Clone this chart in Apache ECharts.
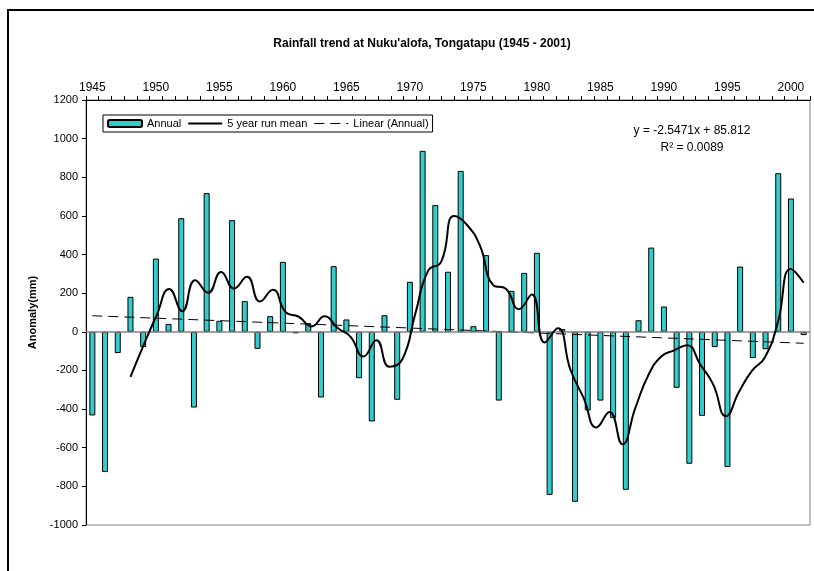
<!DOCTYPE html>
<html>
<head>
<meta charset="utf-8">
<title>Rainfall trend at Nuku'alofa</title>
<script src="https://cdn.jsdelivr.net/npm/echarts@6/dist/echarts.min.js"></script>
<style>
  html, body { margin: 0; padding: 0; background: #fff; }
  #chart { width: 814px; height: 571px; }
</style>
</head>
<body>
<div id="chart"></div>
<script>
const years = ['1945','1946','1947','1948','1949','1950','1951','1952','1953','1954',
  '1955','1956','1957','1958','1959','1960','1961','1962','1963','1964',
  '1965','1966','1967','1968','1969','1970','1971','1972','1973','1974',
  '1975','1976','1977','1978','1979','1980','1981','1982','1983','1984',
  '1985','1986','1987','1988','1989','1990','1991','1992','1993','1994',
  '1995','1996','1997','1998','1999','2000','2001'];

// annual anomaly (mm)
const annual = [-433, -726, -110, 181, -79, 379, 41, 588, -392, 718,
  57, 578, 159, -88, 81, 362, -8, 45, -340, 340,
  64, -240, -464, 86, -352, 259, 937, 656, 311, 833,
  29, 397, -356, 212, 305, 409, -844, 14, -880, -407,
  -356, -447, -818, 60, 436, 131, -290, -683, -435, -79,
  -700, 338, -136, -90, 821, 690, -17];

// 5 year run mean, 53 points drawn from the 1948 slot to the 2001 slot
const runMean = [-233, -71, 82, 222, 107, 267, 202, 310, 224, 285,
  157, 218, 101, 78, 28, 80, 20, -26, -128, -43,
  -181, -142, 93, 317, 362, 599, 553, 445, 243, 223,
  117, 193, -55, 19, -199, -342, -495, -415, -582, -394,
  -225, -128, -96, -69, -168, -271, -437, -312, -202, -133,
  47, 325, 254];

// linear trend, value at 1945 and at 2001
const trendEnds = [83.3, -59.4];

const yTicks = { min: -1000, max: 1200, step: 200 };

// the run mean sits on a hidden value axis stretched between the 1948 and 2001 slots
const n = years.length;
const f0 = (3 + 0.5) / n, f1 = (n - 1 + 0.5) / n;
const span = (runMean.length - 1) / (f1 - f0);
const runMin = -f0 * span;
const runMax = runMin + span;

const chart = echarts.init(document.getElementById('chart'));
const font = 'Liberation Sans, Arial, sans-serif';

chart.setOption({
  animation: false,
  backgroundColor: '#fff',
  textStyle: { fontFamily: font, color: '#000' },
  title: {
    text: "Rainfall trend at Nuku'alofa, Tongatapu (1945 - 2001)",
    left: 417,
    top: 33,
    textAlign: 'center',
    textStyle: { fontSize: 12, fontWeight: 'bold', color: '#000', fontFamily: font }
  },
  legend: {
    left: 103,
    top: 115,
    data: [
      { name: 'Annual' },
      { name: '5 year run mean', icon: 'path://M0,0h34v2h-34z' },
      { name: 'Linear (Annual)', icon: 'path://M0,0h10v1h-10z M16,0h10v1h-10z M32,0h2v1h-2z' }
    ],
    itemWidth: 34,
    itemHeight: 7,
    itemGap: 7,
    padding: [3, 4],
    borderColor: '#000',
    borderWidth: 1,
    borderRadius: 0,
    backgroundColor: '#fff',
    textStyle: { fontSize: 11, color: '#000', fontFamily: font }
  },
  grid: {
    left: 86, right: 4, top: 100, bottom: 46,
    show: true, borderColor: '#808080', borderWidth: 1,
    backgroundColor: 'transparent'
  },
  xAxis: [
    {
      type: 'category',
      position: 'top',
      data: years,
      boundaryGap: true,
      axisLine: { show: true, onZero: false, lineStyle: { color: '#000', width: 1 } },
      axisTick: { show: true, interval: 0, length: 4, lineStyle: { color: '#000', width: 1 } },
      axisLabel: { interval: 4, fontSize: 12, color: '#000', margin: 6 },
      splitLine: { show: false }
    },
    {
      type: 'value',
      show: false,
      min: runMin,
      max: runMax,
      axisLine: { onZero: false },
      splitLine: { show: false }
    }
  ],
  yAxis: {
    type: 'value',
    min: yTicks.min,
    max: yTicks.max,
    interval: yTicks.step,
    name: 'Anomaly(mm)',
    nameLocation: 'middle',
    nameGap: 46,
    nameTextStyle: { fontWeight: 'bold', fontSize: 11, color: '#000' },
    axisLine: { show: true, onZero: false, lineStyle: { color: '#000' } },
    axisTick: { show: true, length: 4, lineStyle: { color: '#000' } },
    axisLabel: { fontSize: 11, color: '#000', margin: 8, formatter: v => String(v) },
    splitLine: { show: false }
  },
  series: [
    {
      name: 'Annual',
      type: 'bar',
      data: annual,
      barWidth: 6,
      itemStyle: { color: '#33CCCC', borderColor: '#000', borderWidth: 1 },
      markLine: {
        silent: true,
        symbol: 'none',
        label: { show: false },
        lineStyle: { color: '#808080', width: 1.5, type: 'solid' },
        data: [{ yAxis: 0 }]
      }
    },
    {
      name: '5 year run mean',
      type: 'line',
      xAxisIndex: 1,
      data: runMean.map((v, i) => [i, v]),
      smooth: 0.5,
      symbol: 'none',
      lineStyle: { color: '#000', width: 2 },
      itemStyle: { color: '#000' },
      z: 5
    },
    {
      name: 'Linear (Annual)',
      type: 'line',
      data: [[0, trendEnds[0]], [n - 1, trendEnds[1]]],
      symbol: 'none',
      lineStyle: { color: '#000', width: 1, type: [10, 6] },
      itemStyle: { color: '#000' },
      z: 4
    }
  ],
  graphic: [
    {
      type: 'rect',
      shape: { x: 8, y: 10, width: 900, height: 700 },
      style: { fill: 'none', stroke: '#000', lineWidth: 2 },
      silent: true
    },
    {
      type: 'text',
      x: 692, y: 131,
      style: { text: 'y = -2.5471x + 85.812', fontSize: 12, fontFamily: font, fill: '#000', textAlign: 'center', textVerticalAlign: 'middle' }
    },
    {
      type: 'text',
      x: 692, y: 148,
      style: { text: 'R² = 0.0089', fontSize: 12, fontFamily: font, fill: '#000', textAlign: 'center', textVerticalAlign: 'middle' }
    }
  ]
});
</script>
</body>
</html>
